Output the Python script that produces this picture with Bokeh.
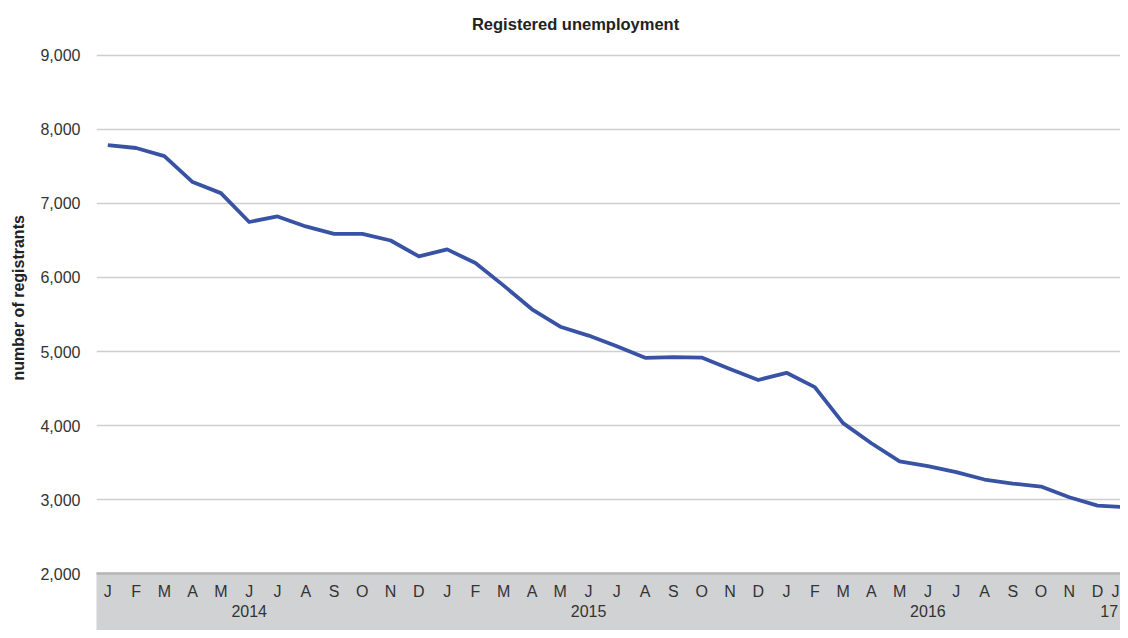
import numpy as np
from bokeh.plotting import figure
from bokeh.models import Range1d, FixedTicker, ColumnDataSource, NumeralTickFormatter, Title
from bokeh.core.properties import value
from bokeh.embed import file_html
from bokeh.resources import INLINE

month_labels = ["J", "F", "M", "A", "M", "J", "J", "A", "S", "O", "N", "D"] * 3 + ["J"]
registrants = [7790, 7750, 7640, 7290, 7140, 6750, 6825, 6690, 6590, 6590, 6500, 6285,
               6380, 6195, 5890, 5570, 5335, 5215, 5070, 4915, 4925, 4918, 4765, 4615,
               4712, 4518, 4032, 3760, 3515, 3450, 3370, 3270, 3215, 3175, 3030, 2918,
               2895]
year_labels = ["2014", "2015", "2016", "17"]
year_index = [5, 17, 29, 36]
y_ticks = [2000, 3000, 4000, 5000, 6000, 7000, 8000, 9000]

FONT = "Liberation Sans"
TEXT = "#333333"

X_END = 35.81
x = np.arange(len(registrants))
# keep the last category's labels inside the visible frame
month_x = np.minimum(x, X_END - 0.18)
year_x = np.minimum(np.array(year_index, dtype=float), X_END - 0.4)

p = figure(width=1120, height=630, output_backend="svg", toolbar_location=None,
           x_range=Range1d(-0.4, X_END), y_range=Range1d(1230, 9743),
           min_border_left=96, min_border_right=0, min_border_top=0, min_border_bottom=0)
p.outline_line_color = None
p.xaxis.visible = False
p.xgrid.visible = False
p.ygrid.ticker = FixedTicker(ticks=y_ticks)
p.ygrid.grid_line_color = "#CFCFCF"
p.ygrid.grid_line_width = 1.5

ya = p.yaxis[0]
ya.ticker = FixedTicker(ticks=y_ticks)
ya.formatter = NumeralTickFormatter(format="0,0")
ya.axis_line_color = None
ya.major_tick_line_color = None
ya.minor_tick_line_color = None
ya.major_tick_out = 0
ya.major_label_standoff = 16
ya.major_label_text_font = FONT
ya.major_label_text_font_size = "16px"
ya.major_label_text_color = TEXT

# category band
p.quad(left=-1, right=40, bottom=0, top=2000, fill_color="#D1D2D4", line_color=None)
p.line(x=[-1, 40], y=[2000, 2000], line_color="#B4B4B4", line_width=2.5)

src = ColumnDataSource(dict(x=x, y=registrants, mx=month_x, m=month_labels))
p.line("x", "y", source=src, line_color="#3953A4", line_width=3.8, line_join="round")

p.text(x="mx", y=1757, text="m", source=src, text_align="center", text_baseline="middle",
       text_font=value(FONT), text_font_size="16px", text_color=TEXT)
ysrc = ColumnDataSource(dict(x=year_x, t=year_labels))
p.text(x="x", y=1500, text="t", source=ysrc, text_align="center", text_baseline="middle",
       text_font=value(FONT), text_font_size="16px", text_color=TEXT)

# chart title (inside the extended frame, above the 9,000 line)
p.text(x=[16.54], y=[9419], text=["Registered unemployment"], text_align="center",
       text_baseline="middle", text_font=value(FONT), text_font_size="16.5px",
       text_font_style="bold", text_color="#222222")

p.add_layout(Title(text="number of registrants", align="left", offset=250,
                   vertical_align="top", standoff=18,
                   text_font=FONT, text_font_size="16px", text_font_style="bold",
                   text_color="#222222"), "left")

open("out.html", "w").write(file_html(p, INLINE))
